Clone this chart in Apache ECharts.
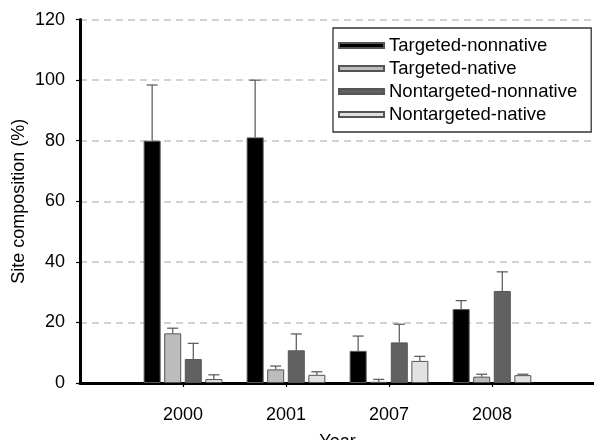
<!DOCTYPE html>
<html>
<head>
<meta charset="utf-8">
<script src="https://cdn.jsdelivr.net/npm/echarts@6/dist/echarts.min.js"></script>
<style>
  html, body { margin: 0; padding: 0; background: #fff; }
  #chart { width: 594px; height: 440px; }
</style>
</head>
<body>
<div id="chart"></div>
<script>
// Survey years (empty slots pad the axis on both sides)
const years = ['2000', '2001', '2007', '2008'];
const yTicks = [0, 20, 40, 60, 80, 100, 120];

// Mean site composition (%) per group
const targetedNonnative    = [80.0, 81.1, 10.6, 24.4];
const targetedNative       = [16.4, 4.5, 0.4, 2.1];
const nontargetedNonnative = [7.9, 10.8, 13.4, 30.4];
const nontargetedNative    = [1.3, 2.7, 7.3, 2.6];

// Upper error (%) per group
const targetedNonnativeErr    = [18.4, 18.9, 4.9, 2.8];
const targetedNativeErr       = [1.7, 1.1, 0.8, 0.8];
const nontargetedNonnativeErr = [5.2, 5.4, 6.0, 6.3];
const nontargetedNativeErr    = [1.4, 1.0, 1.5, 0.3];

const groups = [
  { name: 'Targeted-nonnative',    values: targetedNonnative,    err: targetedNonnativeErr,    color: '#000000' },
  { name: 'Targeted-native',       values: targetedNative,       err: targetedNativeErr,       color: '#bcbcbc' },
  { name: 'Nontargeted-nonnative', values: nontargetedNonnative, err: nontargetedNonnativeErr, color: '#616161' },
  { name: 'Nontargeted-native',    values: nontargetedNative,    err: nontargetedNativeErr,    color: '#e2e2e2' }
];

const BAR_W = 17;
const BAR_GAP = 0.21;
const FONT = "'Liberation Sans', Arial, Helvetica, sans-serif";

const categories = [''].concat(years, ['']);
const pad = arr => ['-'].concat(arr, ['-']);

const series = [];
groups.forEach(g => {
  series.push({
    name: g.name,
    type: 'bar',
    data: pad(g.values),
    barWidth: BAR_W,
    barGap: (BAR_GAP * 100) + '%',
    itemStyle: { color: g.color, borderColor: '#555', borderWidth: 1 },
    z: 2
  });
});

// Upward error whiskers with caps, offset to sit on each bar
groups.forEach((g, k) => {
  const step = BAR_W * (1 + BAR_GAP);
  const offset = (k - (groups.length - 1) / 2) * step;
  series.push({
    name: g.name + ' error',
    type: 'custom',
    silent: true,
    z: 3,
    data: g.values.map((v, i) => [i + 1, v, g.err[i]]),
    renderItem: (params, api) => {
      const base = api.coord([api.value(0), api.value(1)]);
      const top = api.coord([api.value(0), api.value(1) + api.value(2)]);
      const x = base[0] + offset;
      const half = 5.5;
      const style = { stroke: '#555', lineWidth: 1.2, fill: null };
      return {
        type: 'group',
        children: [
          { type: 'line', shape: { x1: x, y1: base[1], x2: x, y2: top[1] }, style },
          { type: 'line', shape: { x1: x - half, y1: top[1], x2: x + half, y2: top[1] }, style }
        ]
      };
    }
  });
});

const chart = echarts.init(document.getElementById('chart'), null, { renderer: 'canvas' });
chart.setOption({
  backgroundColor: '#ffffff',
  animation: false,
  textStyle: { fontFamily: FONT },
  grid: { left: 80, top: 19.6, right: -1, bottom: 57, containLabel: false, outerBoundsMode: 'none' },
  legend: {
    data: groups.map(g => g.name),
    orient: 'vertical',
    left: 333,
    top: 28,
    padding: [8, 14, 8, 5],
    itemWidth: 45,
    itemHeight: 5,
    itemGap: 4,
    icon: 'rect',
    backgroundColor: '#ffffff',
    borderColor: '#333',
    borderWidth: 1.3,
    textStyle: { fontSize: 18.5, color: '#000', fontFamily: FONT }
  },
  xAxis: {
    type: 'category',
    data: categories,
    boundaryGap: false,
    name: 'Year',
    nameLocation: 'middle',
    nameGap: 50,
    nameTextStyle: { fontSize: 18, color: '#000', fontFamily: FONT },
    axisLine: { lineStyle: { color: '#000', width: 3 } },
    axisTick: {
      length: 4,
      interval: (idx, val) => val !== '',
      lineStyle: { color: '#000', width: 1.2 }
    },
    axisLabel: { fontSize: 18, color: '#000', margin: 23, interval: 0, fontFamily: FONT },
    splitLine: { show: false }
  },
  yAxis: {
    type: 'value',
    min: yTicks[0],
    max: yTicks[yTicks.length - 1],
    interval: yTicks[1] - yTicks[0],
    name: 'Site composition (%)',
    nameLocation: 'middle',
    nameGap: 52,
    nameMoveOverlap: false,
    nameTextStyle: { fontSize: 18, color: '#000', fontFamily: FONT },
    axisLine: { show: true, lineStyle: { color: '#000', width: 3 } },
    axisTick: { show: true, length: 4, lineStyle: { color: '#000', width: 1.2 } },
    axisLabel: { fontSize: 18, color: '#000', margin: 15, fontFamily: FONT },
    splitLine: { show: true, lineStyle: { color: '#c4c4c4', width: 1.5, type: [7, 5] } }
  },
  series: series
});
</script>
</body>
</html>
